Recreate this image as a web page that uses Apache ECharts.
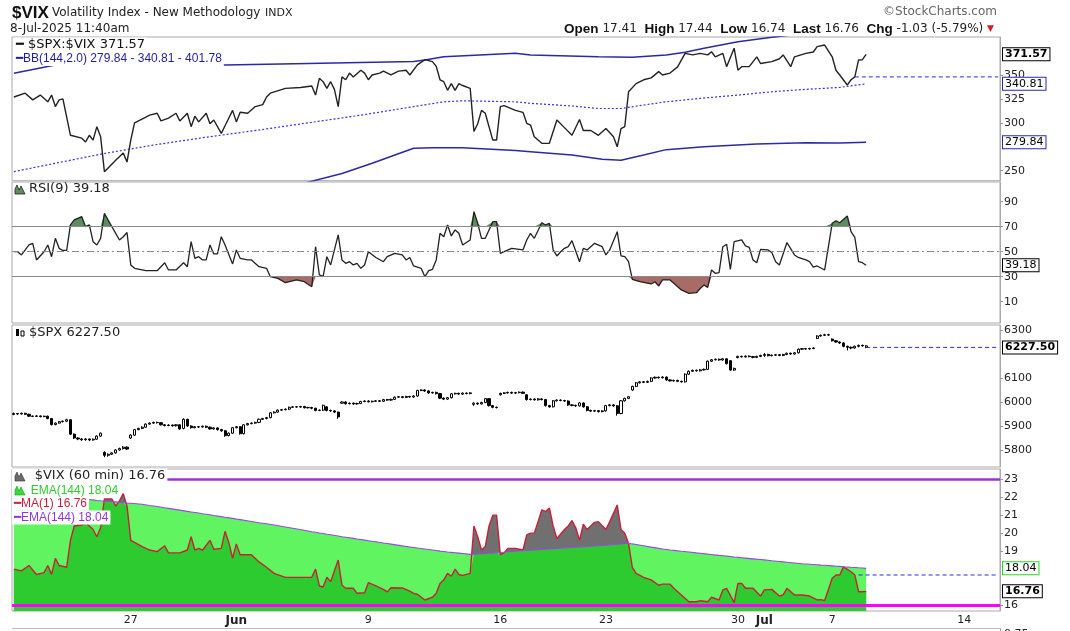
<!DOCTYPE html>
<html><head><meta charset="utf-8">
<script src="https://cdn.jsdelivr.net/npm/echarts@6.0.0/dist/echarts.min.js"></script>
<style>html,body{margin:0;padding:0;background:#fff}#c{width:1070px;height:631px}</style>
</head><body><div id="c"></div>
<script>
// ---- axis / ticks ----
const BAR_COUNT = 262; // hourly bars May 19 13:30 .. Jul 15
const xTickLabels = [[31,'27'],[59,'Jun'],[94,'9'],[129,'16'],[157,'23'],[192,'30'],[199,'Jul'],[217,'7'],[252,'14']];
const ratioTicks = [250,300,325,350];
const rsiTicks = [10,30,50,70,90];
const spxTicks = [5800,5900,6000,6100,6300];
const vixTicks = [16,19,20,21,22,23];

// ---- panel 1: $SPX:$VIX with BB(144,2) ----
const ratioPts = [[0,327],[3,331],[5,324],[7,329],[9,322],[10,329],[11,317],[12,324],[13,325],[14,306],[15,287],[18,284],[19,280],[20,287],[21,282],[22,296],[23,285.5],[24,249],[27,261],[29,268.5],[30,259],[31,282],[32,300],[35,306],[36,308],[38,310],[39,302],[41,305],[43,310],[44,302],[46,310],[47,296],[48,307],[49,301],[51,310],[52,299],[53,303],[55,289],[56,297],[57,305],[58,313],[59,301],[60,311],[62,310],[64,317],[66,319],[67,327],[68,331],[72,336],[76,337],[79,338.5],[80,329],[81,346.5],[82,343],[83,336],[84,343],[85,335],[86,317],[87,348],[88,345],[89,352],[90,348],[92,355],[93,352],[94,345],[95,350],[97,352],[98,354],[100,350],[102,354],[104,355],[105,350],[107,360.5],[109,366],[111,364],[112,359],[113,345],[114,343],[115,334],[116,341],[117,334],[118,341],[119,339],[121,336],[122,291],[123,299],[124,313],[125,310],[127,282],[128,282],[129,317],[130,318],[133,313],[135,311],[136,299.5],[137,297.7],[138,285.5],[140,278.6],[142,278.6],[144,303],[146,295],[148,287],[150,303.5],[151,292],[153,292],[155,287],[157,294],[159,285.5],[160,275],[161,294],[162,296],[163,332.5],[165,341],[167,345],[169,347],[171,353.5],[172,350],[174,352],[176,358.5],[178,372.6],[180,371],[182,372.6],[184,371],[185,374.3],[186,369],[188,372.6],[189,358.7],[191,378],[192,355],[193,358.7],[195,358.7],[197,369],[198,362],[201,364],[203,367],[204,371],[206,358.7],[207,369],[210,372.6],[212,374],[213,379.6],[215,381.3],[217,369],[218,355],[219,350],[221,339.5],[222,345],[223,348],[224,365.7],[225,366],[226,371.57]];
const bbUpperPts = [[0,351.8],[11,360.4],[23,361],[56,360.4],[78,362],[106,364],[109,365.7],[114,369],[133,372.7],[137,371],[155,369],[164,368.5],[173,371],[178,373.7],[183,378],[192,384.8],[201,389.4],[211,394],[226,401.78]];
const bbMidPts = [[0,249],[10,257],[24,268],[37,276.8],[51,285],[65,292.5],[78,300],[92,308],[106,317],[114,322],[119,323],[133,322],[137,320.4],[148,317.6],[155,315],[161,315],[167,318.6],[173,322],[182,325.6],[192,329],[201,332.5],[210,335],[219,337],[226,340.81]];
const bbLowerPts = [[0,146],[24,175],[51,209],[78,238],[87,247],[95,257.7],[106,273.4],[111,274],[119,274],[133,271],[137,269.9],[148,266.4],[156,262],[161,261],[167,266.4],[173,272],[183,275],[197,278],[210,279.3],[219,279],[226,279.84]];
const ratioRefLine = [[223,348],[261,348]];

// ---- panel 2: RSI(9) ----
const rsiPts = [[0,50],[1,50],[2,47.4],[4,55.4],[5,56.7],[6,43.4],[8,50],[9,55.4],[10,46],[11,60.7],[12,52.7],[13,51],[14,51],[15,71.4],[16,75.4],[18,78],[19,70],[20,71.4],[21,58],[22,55.4],[23,60.7],[24,80.7],[26,70],[27,64.7],[28,59.4],[29,62],[30,65.4],[31,39.4],[32,36.7],[35,34.8],[38,34.8],[40,41.2],[41,35.4],[43,35.4],[45,41.2],[46,38],[47,58],[48,44.7],[49,46],[50,43.4],[51,43.4],[52,55.4],[53,48.2],[54,48.2],[55,62],[56,55.4],[58,40.2],[59,51.4],[60,44.7],[62,43.4],[63,43.4],[65,38],[67,36.7],[68,30],[70,28.7],[72,25.2],[75,27.4],[77,26],[79,22],[80,54],[81,31.4],[82,30],[83,46],[84,39.4],[86,63.4],[87,43.4],[88,40.7],[89,42],[90,39.4],[91,40.7],[92,36.7],[93,39.4],[94,50],[96,45.4],[98,42],[99,46],[101,48.7],[103,47.4],[104,43.4],[105,45.4],[106,38.6],[108,36.7],[109,30],[110,34.8],[111,35.9],[112,43.4],[113,64.7],[114,62],[115,71.4],[116,62.6],[117,67.4],[118,64.7],[119,55.4],[121,59.4],[122,82],[123,72.7],[124,60.7],[125,60.7],[127,74],[128,74],[129,48.7],[130,50],[132,52.7],[135,51.4],[136,59.4],[137,64.7],[138,60.7],[140,73.2],[141,71.4],[142,72.7],[143,51.4],[144,46.6],[145,50],[146,52.7],[147,54],[148,58.8],[150,42],[151,52.7],[152,51.4],[154,56.7],[156,54],[157,47.4],[158,51.4],[160,66],[161,46.6],[162,46],[163,42],[164,27.9],[166,26],[169,24.2],[170,26],[171,22.6],[172,27.4],[174,27.4],[175,24.7],[177,19.4],[179,16.7],[181,17.2],[182,20.6],[183,23.4],[184,21.5],[185,35.4],[186,32.7],[187,33.3],[188,54],[189,56],[190,35.9],[191,58],[193,59.4],[194,54.6],[195,53.5],[196,43.4],[197,41.2],[198,51.9],[200,51.4],[201,49.3],[202,42],[203,39.4],[205,57.3],[207,47.4],[208,45.4],[210,43.4],[211,42],[212,37.6],[213,38.6],[215,35.4],[217,72.7],[218,74.8],[219,73.2],[221,78.6],[222,66],[223,61.4],[224,42],[225,41.2],[226,39.18]];

// ---- panel 3: $SPX hourly candles [open, close, low, high] ----
const spxOHLC = [
[5948,5952,5945,5956],[5952,5950,5947,5954],[5950,5953,5948,5956],[5953,5949,5946,5955],[5949,5941,5938,5951],[5941,5940,5937,5944],[5940,5942,5938,5945],[5942,5939,5936,5944],[5939,5941,5937,5943],[5941,5931,5928,5943],
[5931,5906,5902,5933],[5906,5912,5903,5915],[5912,5918,5910,5921],[5918,5920,5915,5923],[5920,5926,5917,5930],[5926,5866,5862,5928],[5866,5850,5846,5869],[5850,5846,5841,5853],[5846,5843,5838,5849],[5843,5846,5839,5849],
[5846,5842,5837,5848],[5842,5845,5839,5848],[5845,5858,5843,5861],[5858,5870,5855,5873],[5790,5778,5770,5795],[5778,5782,5772,5786],[5782,5788,5779,5791],[5788,5800,5785,5803],[5800,5806,5797,5810],[5806,5812,5802,5816],
[5812,5804,5800,5815],[5850,5862,5846,5866],[5862,5885,5859,5888],[5885,5890,5882,5893],[5890,5895,5887,5899],[5895,5908,5892,5911],[5908,5912,5905,5915],[5912,5915,5909,5918],[5915,5914,5910,5918],[5914,5905,5902,5916],
[5905,5902,5898,5908],[5902,5904,5899,5907],[5904,5901,5897,5906],[5901,5905,5898,5908],[5905,5888,5884,5907],[5890,5928,5886,5932],[5928,5900,5896,5930],[5900,5893,5889,5903],[5893,5897,5890,5900],[5897,5896,5892,5900],
[5896,5899,5893,5902],[5899,5895,5891,5902],[5895,5888,5884,5898],[5888,5892,5885,5895],[5892,5885,5881,5894],[5885,5880,5876,5888],[5880,5860,5855,5883],[5860,5870,5857,5873],[5870,5893,5867,5896],[5893,5897,5890,5900],
[5897,5868,5864,5899],[5868,5905,5865,5908],[5905,5910,5902,5913],[5910,5912,5907,5915],[5912,5915,5909,5918],[5915,5928,5912,5931],[5928,5931,5925,5934],[5931,5935,5928,5938],[5935,5955,5932,5958],[5955,5958,5952,5961],
[5958,5966,5955,5969],[5966,5968,5963,5971],[5968,5970,5965,5973],[5970,5978,5967,5981],[5978,5980,5975,5983],[5980,5979,5976,5983],[5979,5981,5976,5984],[5981,5976,5973,5984],[5976,5977,5973,5980],[5977,5974,5970,5980],
[5974,5965,5961,5976],[5965,5966,5962,5969],[5966,5986,5963,5989],[5980,5965,5961,5983],[5965,5963,5959,5968],[5963,5958,5954,5966],[5958,5938,5930,5960],[5995,6000,5992,6004],[6000,5993,5989,6003],[5993,5995,5990,5998],
[5995,5992,5988,5998],[5992,5994,5989,5997],[5994,6002,5991,6005],[6002,6004,5999,6007],[6004,6001,5998,6007],[6001,6003,5998,6006],[6003,6005,6000,6008],[6005,6003,6000,6008],[6003,6010,6000,6013],[6010,6008,6005,6013],
[6008,6011,6005,6014],[6011,6020,6008,6023],[6020,6022,6017,6025],[6022,6019,6016,6025],[6019,6023,6016,6026],[6023,6021,6018,6026],[6021,6025,6018,6028],[6025,6048,6022,6051],[6048,6050,6045,6053],[6050,6046,6042,6053],
[6046,6038,6034,6049],[6038,6040,6035,6043],[6040,6035,6031,6043],[6035,6016,6012,6038],[6016,6012,6008,6019],[6012,6018,6009,6021],[6018,6034,6015,6037],[6034,6036,6031,6039],[6036,6033,6030,6039],[6033,6037,6030,6040],
[6037,6035,6032,6040],[6035,6038,6032,6041],[5990,5995,5984,5999],[5995,5992,5988,5998],[5992,5998,5989,6001],[5998,6014,5995,6017],[6014,5985,5981,6016],[5985,5978,5974,5988],[5978,5977,5973,5981],[6030,6036,6027,6039],
[6036,6038,6033,6041],[6038,6040,6035,6043],[6040,6037,6034,6043],[6037,6039,6034,6042],[6039,6041,6036,6044],[6041,6036,6033,6044],[6030,6010,6006,6033],[6010,6012,6007,6015],[6012,6009,6006,6015],[6009,6013,6006,6016],
[6013,6010,6007,6016],[6010,5985,5981,6013],[5985,5980,5976,5988],[5980,6005,5977,6008],[6005,6008,6002,6011],[6008,6006,6003,6011],[6006,6004,6001,6009],[6004,5988,5984,6007],[5988,5986,5982,5991],[5986,5984,5980,5989],
[5984,5996,5981,5999],[5996,5980,5976,5998],[5980,5965,5961,5983],[5965,5962,5958,5968],[5962,5964,5959,5967],[5964,5960,5956,5967],[5960,5963,5957,5966],[5963,5985,5960,5988],[5985,5988,5982,5991],[5988,5984,5980,5991],
[5984,5952,5943,5987],[5952,6005,5949,6008],[6005,6015,6002,6018],[6015,6022,6012,6025],[6050,6065,6046,6068],[6065,6080,6062,6083],[6080,6084,6077,6087],[6084,6082,6079,6087],[6082,6086,6079,6089],[6086,6100,6083,6103],
[6100,6103,6097,6106],[6103,6101,6098,6106],[6101,6104,6098,6107],[6104,6092,6088,6106],[6092,6088,6085,6095],[6088,6090,6085,6093],[6090,6086,6083,6093],[6086,6084,6081,6089],[6084,6116,6081,6119],[6116,6128,6113,6131],
[6128,6132,6125,6135],[6132,6130,6127,6135],[6130,6134,6127,6137],[6134,6136,6131,6139],[6136,6170,6133,6173],[6170,6176,6167,6179],[6176,6178,6173,6181],[6178,6175,6172,6181],[6175,6180,6172,6183],[6180,6160,6156,6182],
[6172,6133,6130,6175],[6133,6140,6130,6143],[6185,6190,6182,6193],[6190,6188,6185,6193],[6188,6191,6185,6194],[6191,6189,6186,6194],[6189,6186,6182,6192],[6186,6190,6183,6193],[6190,6194,6187,6197],[6194,6198,6188,6204],
[6198,6193,6190,6201],[6193,6195,6190,6198],[6195,6197,6192,6200],[6197,6194,6191,6200],[6194,6198,6191,6201],[6198,6203,6195,6206],[6203,6200,6197,6206],[6200,6205,6197,6208],[6205,6220,6202,6223],[6220,6222,6217,6225],
[6222,6221,6218,6225],[6221,6223,6218,6226],[6223,6225,6220,6228],[6265,6275,6262,6278],[6275,6278,6272,6281],[6278,6280,6275,6284],[6280,6279,6276,6284],[6262,6255,6252,6265],[6255,6250,6247,6258],[6250,6246,6242,6253],
[6246,6232,6228,6249],[6232,6228,6215,6235],[6228,6225,6220,6231],[6225,6232,6222,6235],[6232,6236,6228,6239],[6236,6234,6231,6239],[6234,6227.5,6224,6237]
];
const spxRefLine = [[226,6227.5],[261,6227.5]];

// ---- panel 4: $VIX (60 min) and EMA(144), read at the same bars ----
const vixPts = [[0,18.0],[2,17.9],[4,18.2],[6,17.7],[8,17.8],[9,18.2],[10,17.7],[11,18.6],[12,18.2],[14,18.1],[15,19.6],[16,20.4],[18,20.45],[19,20.6],[20,20.4],[21,20.2],[22,19.8],[23,20.3],[24,21.9],[26,21.9],[27,21.5],[28,21.8],[29,22.2],[30,21.5],[31,19.6],[34,19.25],[36,19.06],[38,18.97],[40,19.3],[41,18.9],[44,18.9],[46,19.06],[47,19.8],[48,19.06],[49,19.15],[50,19.05],[52,19.6],[53,19.1],[55,19.15],[56,20.1],[57,19.47],[58,18.6],[59,19.4],[60,18.8],[63,18.8],[65,18.4],[67,18.1],[69,17.76],[72,17.54],[77,17.54],[79,17.54],[80,18.0],[81,17.06],[82,17.0],[83,17.54],[84,17.3],[86,18.5],[87,17.1],[88,16.93],[90,16.93],[91,16.65],[93,16.68],[94,17.24],[96,17.06],[98,16.87],[99,16.73],[100,16.96],[103,16.95],[105,16.77],[106,16.65],[107,16.6],[109,16.28],[111,16.43],[112,16.65],[113,17.2],[114,17.4],[115,17.76],[116,17.6],[117,18.0],[118,17.7],[119,17.65],[121,17.76],[122,20.4],[123,19.8],[124,19.06],[125,19.25],[126,20.4],[127,21.0],[128,21.0],[129,18.8],[130,18.9],[131,19.15],[133,19.15],[135,19.06],[136,19.9],[137,20.0],[138,20.0],[139,20.64],[140,21.3],[141,21.2],[142,21.4],[143,20.4],[144,19.7],[146,20.2],[147,20.4],[148,20.7],[149,20.3],[150,19.6],[151,20.5],[152,20.2],[154,20.6],[155,20.64],[157,20.2],[158,20.64],[160,21.57],[161,20.2],[162,20.0],[163,19.43],[164,18.1],[165,17.76],[167,17.54],[169,17.4],[171,17.1],[172,17.16],[174,17.16],[175,16.93],[177,16.56],[179,16.18],[181,16.18],[182,16.24],[184,16.18],[185,16.43],[187,16.28],[188,16.84],[189,16.93],[191,16.13],[192,17.2],[193,17.2],[194,16.93],[196,16.93],[198,16.5],[199,16.84],[201,16.87],[203,16.5],[204,16.56],[205,16.93],[207,16.56],[209,16.56],[211,16.5],[213,16.28],[214,16.3],[215,16.24],[217,17.49],[218,17.67],[219,17.67],[220,18.12],[222,17.85],[223,17.67],[224,16.74],[225,16.74],[226,16.76]];
const emaPts = [[0,22.35],[2,22.3],[4,22.26],[6,22.21],[8,22.17],[9,22.14],[10,22.12],[11,22.1],[12,22.07],[14,22.02],[15,22.0],[16,21.97],[18,21.92],[19,21.9],[20,21.87],[21,21.85],[22,21.82],[23,21.8],[24,21.79],[26,21.75],[27,21.74],[28,21.72],[29,21.69],[30,21.67],[31,21.66],[34,21.61],[36,21.54],[38,21.48],[40,21.41],[41,21.38],[44,21.28],[46,21.21],[47,21.18],[48,21.15],[49,21.12],[50,21.08],[52,21.02],[53,20.98],[55,20.92],[56,20.88],[57,20.85],[58,20.82],[59,20.78],[60,20.75],[63,20.65],[65,20.58],[67,20.52],[69,20.45],[72,20.34],[77,20.16],[79,20.08],[80,20.05],[81,20.01],[82,19.98],[83,19.94],[84,19.91],[86,19.84],[87,19.8],[88,19.77],[90,19.71],[91,19.67],[93,19.61],[94,19.58],[96,19.52],[98,19.45],[99,19.42],[100,19.39],[103,19.29],[105,19.23],[106,19.2],[107,19.17],[109,19.12],[111,19.06],[112,19.03],[113,19.0],[114,18.98],[115,18.95],[116,18.93],[117,18.91],[118,18.89],[119,18.87],[121,18.82],[122,18.83],[123,18.84],[124,18.86],[125,18.87],[126,18.88],[127,18.89],[128,18.91],[129,18.92],[130,18.94],[131,18.96],[133,18.99],[135,19.02],[136,19.03],[137,19.05],[138,19.06],[139,19.08],[140,19.09],[141,19.11],[142,19.12],[143,19.14],[144,19.15],[146,19.18],[147,19.19],[148,19.2],[149,19.22],[150,19.23],[151,19.24],[152,19.26],[154,19.28],[155,19.3],[157,19.33],[158,19.35],[160,19.39],[161,19.4],[162,19.42],[163,19.44],[164,19.4],[165,19.37],[167,19.3],[169,19.22],[171,19.15],[172,19.12],[174,19.06],[175,19.04],[177,18.99],[179,18.95],[181,18.9],[182,18.88],[184,18.83],[185,18.81],[187,18.76],[188,18.74],[189,18.72],[191,18.67],[192,18.65],[193,18.63],[194,18.61],[196,18.57],[198,18.53],[199,18.51],[201,18.46],[203,18.42],[204,18.4],[205,18.38],[207,18.34],[209,18.3],[211,18.27],[213,18.24],[214,18.22],[215,18.21],[217,18.18],[218,18.16],[219,18.15],[220,18.13],[222,18.1],[223,18.09],[224,18.07],[225,18.06],[226,18.04]];
const vixRefLine = [[224,17.67],[261,17.67]];

// ---- build ----
const cats = Array.from({length: BAR_COUNT}, (_, i) => String(i));
const tickMap = new Map(xTickLabels);
const emaMap = new Map(emaPts);
const vixLowerOfBoth = vixPts.map(([i, v]) => [i, Math.min(v, emaMap.has(i) ? emaMap.get(i) : v)]);
const rsiAbove = rsiPts.map(([i, v]) => [i, Math.max(v, 70)]);
const rsiBelow = rsiPts.map(([i, v]) => [i, Math.min(v, 30)]);

const FONT = 'DejaVu Sans';
const BLUE = '#2a2af0';
const CLEAR = 'rgba(0,0,0,0)';
const L = 12, R = 70;
const gridDefs = [
  {top: 37, height: 143.7}, {top: 182, height: 141}, {top: 325, height: 142}, {top: 469, height: 142}
].map(g => Object.assign({left: L, right: R, show: true, borderColor: '#aaaaaa', borderWidth: 1}, g));

function yAx(gi, min, max, ticks) {
  return {type: 'value', gridIndex: gi, position: 'right', min, max,
    axisLine: {show: true, lineStyle: {color: '#aaaaaa'}},
    axisTick: {show: true, length: 3, lineStyle: {color: '#999'}, customValues: ticks},
    axisLabel: {customValues: ticks, fontSize: 11, fontFamily: FONT, color: '#222', margin: 4, formatter: v => String(v)},
    splitLine: {show: false}};
}
function xAx(gi, showLabels) {
  return {type: 'category', gridIndex: gi, data: cats, boundaryGap: true,
    axisLine: {show: false}, axisTick: {show: false}, splitLine: {show: false},
    axisLabel: showLabels ? {show: true, interval: 0, margin: 4, fontSize: 11, fontFamily: FONT, color: '#222',
      formatter: (v, idx) => { const t = tickMap.get(Number(v)); if (!t) return ''; return (t === 'Jun' || t === 'Jul') ? '{b|' + t + '}' : t; },
      rich: {b: {fontWeight: 'bold', fontSize: 12, fontFamily: FONT, color: '#222'}}} : {show: false}};
}
function box(val, text, border, bold) {
  return {yAxis: val, lineStyle: {color: CLEAR, width: 0.01}, label: {show: true, position: 'end', formatter: text, distance: 3,
    color: '#000', fontSize: 11, fontFamily: FONT, fontWeight: bold ? 'bold' : 'normal', opacity: 1,
    backgroundColor: '#fff', borderColor: border, borderWidth: 1, padding: [1, 2, 0, 2]}};
}
function hline(val, color, width, type) { return {yAxis: val, lineStyle: {color, width, type}, label: {show: false}}; }
const ML = (data) => ({symbol: ['none', 'none'], silent: true, animation: false, data});
const lineS = (xi, data, color, width, extra) => Object.assign({type: 'line', xAxisIndex: xi, yAxisIndex: xi, data,
  showSymbol: false, symbol: 'none', silent: true, lineStyle: {color, width}}, extra || {});
const dashS = (xi, data) => lineS(xi, data, BLUE, 1, {lineStyle: {color: BLUE, width: 1, type: [4, 3]}, clip: false, z: 4});

const spxData = spxOHLC.map((r, k) => k === spxOHLC.length - 1 ? {value: r, itemStyle: {color: '#ffff70', color0: '#ffff70', borderColor: '#000', borderColor0: '#000'}} : r);

const txt = (x, y, text, font, fill, extra) => ({type: 'text', x, y, z: 100,
  style: Object.assign({text, font, fill, textVerticalAlign: 'middle'}, extra || {})});
const legBg = {backgroundColor: '#fff', padding: [1, 2, 1, 2]};

const option = {
  animation: false,
  backgroundColor: '#fff',
  grid: gridDefs,
  xAxis: [xAx(0, false), xAx(1, false), xAx(2, false), xAx(3, true)],
  yAxis: [yAx(0, 239.55, 389.7, ratioTicks), yAx(1, -7.04, 105.76, rsiTicks), yAx(2, 5729.2, 6320.8, spxTicks), yAx(3, 15.666, 23.57, vixTicks)],
  series: [
    lineS(0, bbUpperPts, '#2a2aa6', 1.5),
    lineS(0, bbLowerPts, '#2a2aa6', 1.5),
    lineS(0, bbMidPts, '#3535d2', 1.2, {lineStyle: {color: '#3535d2', width: 1.2, type: [2, 2]}}),
    dashS(0, ratioRefLine),
    lineS(0, ratioPts, '#222', 1.4, {clip: false, markLine: ML([
      box(371.57, '371.57', '#000', true), box(340.81, '340.81', '#2a2aa6', false), box(279.84, '279.84', '#2a2aa6', false)])}),

    lineS(1, rsiAbove, '#5d8d5d', 0, {lineStyle: {opacity: 0}, areaStyle: {origin: 70, color: '#5d8d5d', opacity: 1}}),
    lineS(1, rsiBelow, '#a86b66', 0, {lineStyle: {opacity: 0}, areaStyle: {origin: 30, color: '#a86b66', opacity: 1}}),
    lineS(1, rsiPts, '#222', 1.3, {clip: false, markLine: ML([
      hline(70, '#8a8a8a', 1, 'solid'), hline(30, '#8a8a8a', 1, 'solid'), hline(50, '#8a8a8a', 1, [7, 3, 2, 3]),
      box(39.18, '39.18', '#000', false)])}),

    {type: 'candlestick', xAxisIndex: 2, yAxisIndex: 2, data: spxData, barWidth: 2.6, silent: true, clip: false,
      itemStyle: {color: '#fff', color0: '#000', borderColor: '#000', borderColor0: '#000', borderWidth: 1},
      markLine: ML([box(6227.5, '6227.50', '#000', true)])},
    dashS(2, spxRefLine),

    lineS(3, vixPts, '#707070', 0, {lineStyle: {opacity: 0}, areaStyle: {origin: 'start', color: '#707070', opacity: 1}}),
    lineS(3, emaPts, '#60f560', 0, {lineStyle: {opacity: 0}, areaStyle: {origin: 'start', color: '#60f560', opacity: 1}}),
    lineS(3, vixLowerOfBoth, '#2ecb30', 0, {lineStyle: {opacity: 0}, areaStyle: {origin: 'start', color: '#2ecb30', opacity: 1}}),
    lineS(3, vixPts, '#c8203a', 1.4),
    dashS(3, vixRefLine),
    lineS(3, emaPts, '#9944ee', 1.1, {clip: false, markLine: ML([
      hline(23, '#9a33d6', 2.5, 'solid'), hline(16, '#ff00ff', 3, 'solid'),
      box(18.04, '18.04', '#22dd22', false), box(16.76, '16.76', '#000', true)])})
  ],
  graphic: [
    txt(12, 13, '$VIX', 'bold 17px "Liberation Sans"', '#111'),
    txt(52, 13, 'Volatility Index - New Methodology', '12px "DejaVu Sans"', '#222'),
    txt(265, 13, 'INDX', '11px "DejaVu Sans"', '#222'),
    txt(10, 29, '8-Jul-2025 11:40am', '12px "DejaVu Sans"', '#222'),
    txt(997, 12, '©StockCharts.com', '12px "DejaVu Sans"', '#666', {textAlign: 'right'}),
    {type: 'text', x: 994, y: 29, z: 100, style: {
      text: '{l|Open} {v|17.41}  {l|High} {v|17.44}  {l|Low} {v|16.74}  {l|Last} {v|16.76}  {l|Chg} {v|-1.03 (-5.79%)} {t|▼}',
      textAlign: 'right', textVerticalAlign: 'middle', font: '12px "DejaVu Sans"', fill: '#222',
      rich: {l: {fontFamily: 'Liberation Sans', fontWeight: 'bold', fontSize: 13.5, fill: '#111'},
             v: {fontFamily: FONT, fontSize: 12, fill: '#222'},
             t: {fontFamily: FONT, fontSize: 9, fill: '#d0202a'}}}},

    // panel 1 legend
    txt(14, 45, '━ $SPX:$VIX 371.57', '13px "DejaVu Sans"', '#111', legBg),
    txt(14, 59, '━BB(144,2.0) 279.84 - 340.81 - 401.78', '12px "Liberation Sans"', '#1f1f96', legBg),
    // panel 2 legend
    {type: 'polygon', z: 100, shape: {points: [[15, 194], [15, 189], [17, 185], [19, 190], [21, 186], [23, 190], [25, 194]]}, style: {fill: '#5d8d5d', stroke: '#222', lineWidth: 0.8}},
    txt(29, 189, 'RSI(9) 39.18', '13px "DejaVu Sans"', '#222'),
    // panel 3 legend
    {type: 'rect', z: 100, shape: {x: 16, y: 329, width: 3, height: 7}, style: {fill: '#000'}},
    {type: 'rect', z: 100, shape: {x: 21, y: 331, width: 3, height: 5}, style: {fill: '#fff', stroke: '#000', lineWidth: 1}},
    txt(29, 333, '$SPX 6227.50', '13px "DejaVu Sans"', '#222'),
    // panel 4 legend
    txt(12, 476, '     $VIX (60 min) 16.76', '13px "DejaVu Sans"', '#222', legBg),
    {type: 'polygon', z: 101, shape: {points: [[15, 481], [15, 476], [17, 472], [19, 477], [21, 473], [23, 477], [25, 481]]}, style: {fill: '#6c6c6c', stroke: '#333', lineWidth: 0.6}},
    txt(12, 490.5, '     EMA(144) 18.04', '12px "Liberation Sans"', '#2ecc2e', legBg),
    {type: 'polygon', z: 101, shape: {points: [[15, 495], [15, 490], [17, 486], [19, 491], [21, 487], [23, 491], [25, 495]]}, style: {fill: '#33dd33', stroke: '#229922', lineWidth: 0.6}},
    txt(12, 503.8, '━MA(1) 16.76', '12px "Liberation Sans"', '#cc1f3c', legBg),
    txt(12, 517.5, '━EMA(144) 18.04', '12px "Liberation Sans"', '#9933dd', legBg),

    // start of the next (cut-off) panel
    {type: 'line', z: 100, shape: {x1: 12, y1: 628.5, x2: 1000, y2: 628.5}, style: {stroke: '#bbbbbb', lineWidth: 1}},
    {type: 'line', z: 100, shape: {x1: 1000.5, y1: 628, x2: 1000.5, y2: 631}, style: {stroke: '#aaaaaa', lineWidth: 1}},
    txt(1004, 634, '0.75', '11px "DejaVu Sans"', '#222')
  ]
};
const chart = echarts.init(document.getElementById('c'), null, {renderer: 'canvas', width: 1070, height: 631});
chart.setOption(option);
</script>
</body></html>
